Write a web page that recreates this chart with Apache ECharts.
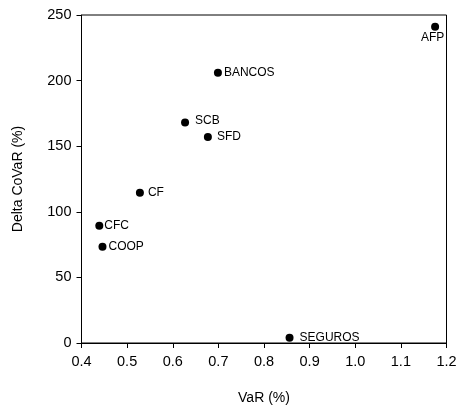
<!DOCTYPE html>
<html>
<head>
<meta charset="utf-8">
<script src="https://cdn.jsdelivr.net/npm/echarts@6/dist/echarts.min.js"></script>
<style>html,body{margin:0;padding:0;background:#fff}#c{width:458px;height:405px}</style>
</head>
<body>
<div id="c"></div>
<script>
var names = ['AFP','BANCOS','SCB','SFD','CF','CFC','COOP','SEGUROS'];
var varValues = [1.175, 0.699, 0.627, 0.677, 0.528, 0.439, 0.446, 0.856];
var deltaCoVaR = [241, 206, 168, 157, 114.6, 89.4, 73.4, 4];
var xTicks = [0.4, 0.5, 0.6, 0.7, 0.8, 0.9, 1.0, 1.1, 1.2];
var yTicks = [0, 50, 100, 150, 200, 250];

var labelDist = {AFP:1, BANCOS:2, SCB:6, SFD:5, CF:4, CFC:1, COOP:2, SEGUROS:6};
var font = 'Arial, "Liberation Sans", sans-serif';

var data = names.map(function(n, i){
  return {
    value: [varValues[i], deltaCoVaR[i]],
    name: n,
    label: {
      show: true,
      formatter: n,
      position: n === 'AFP' ? 'bottom' : 'right',
      distance: labelDist[n],
      offset: n === 'AFP' ? [-2.5, 0] : (n === 'SCB' ? [0, -2] : [0, 0]),
      color: '#000',
      fontSize: 12,
      fontFamily: font
    }
  };
});

var chart = echarts.init(document.getElementById('c'), null, {renderer:'canvas'});
chart.setOption({
  animation: false,
  backgroundColor: '#fff',
  grid: {left: 81.5, right: 11.5, top: 15, bottom: 62, show: true, borderColor: '#000', borderWidth: 1, backgroundColor: 'transparent', containLabel: false, outerBoundsMode: 'none'},
  xAxis: {
    type: 'value', min: 0.4, max: 1.2, interval: 0.1,
    name: 'VaR (%)', nameLocation: 'middle', nameGap: 48,
    nameTextStyle: {color:'#000', fontSize: 14, fontFamily: font},
    axisLine: {show: true, lineStyle: {color:'#000', width: 1}},
    axisTick: {show: true, length: 5, lineStyle: {color:'#000'}},
    axisLabel: {color:'#000', fontSize: 14.5, fontFamily: font, margin: 11,
      formatter: function(v){ return v.toFixed(1); }},
    splitLine: {show: false}
  },
  yAxis: {
    type: 'value', min: 0, max: 250, interval: 50,
    name: 'Delta CoVaR (%)', nameLocation: 'middle', nameGap: 56,
    nameTextStyle: {color:'#000', fontSize: 14, fontFamily: font},
    axisLine: {show: true, lineStyle: {color:'#000', width: 1}},
    axisTick: {show: true, length: 5, lineStyle: {color:'#000'}},
    axisLabel: {color:'#000', fontSize: 14.5, fontFamily: font, margin: 10},
    splitLine: {show: false}
  },
  series: [{
    type: 'scatter',
    symbol: 'circle',
    symbolSize: 8,
    itemStyle: {color: '#000', opacity: 1},
    data: data
  }]
});
</script>
</body>
</html>
